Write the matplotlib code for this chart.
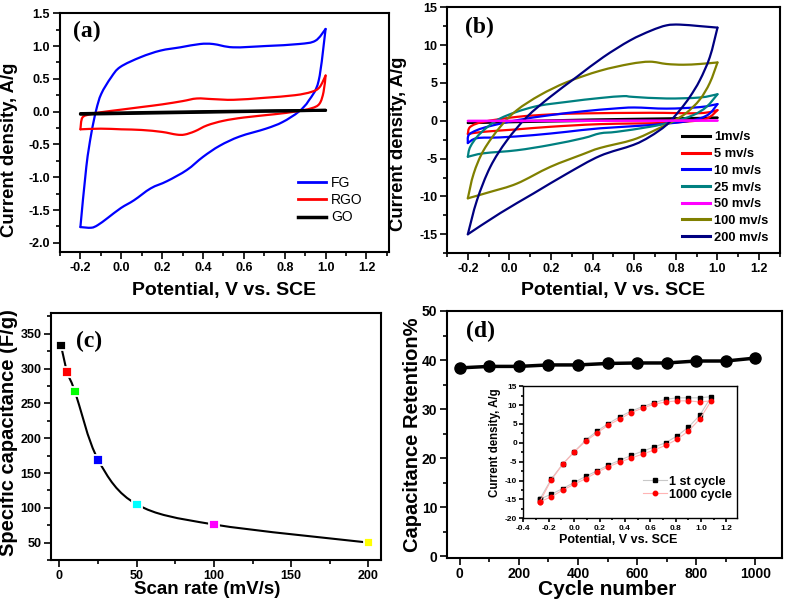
import numpy as np
import matplotlib
matplotlib.use('Agg')
import matplotlib.pyplot as plt
from matplotlib.path import Path
from matplotlib.patches import PathPatch
from matplotlib.ticker import MultipleLocator, FormatStrFormatter

# ---------------- data ----------------
# (a) CV of FG / RGO / GO, loop goes -0.2 -> 1.0 -> -0.2
fg_v = [-0.2, -0.171, -0.147, -0.123, -0.098, -0.05, -0.005, 0.095, 0.192, 0.289, 0.385, 0.45, 0.547, 0.708, 0.869, 0.95, 1.0,
        0.966, 0.918, 0.869, 0.789, 0.708, 0.579, 0.482, 0.4, 0.321, 0.224, 0.144, 0.063, -0.002, -0.066, -0.115, -0.147, -0.2]
fg_i = [-1.76, -0.84, -0.34, 0.02, 0.27, 0.52, 0.68, 0.83, 0.93, 0.98, 1.03, 1.03, 0.98, 1.0, 1.03, 1.08, 1.26,
        0.47, 0.17, 0.0, -0.16, -0.26, -0.38, -0.52, -0.69, -0.89, -1.06, -1.17, -1.35, -1.47, -1.62, -1.73, -1.77, -1.76]
rgo_v = [-0.2, -0.19, -0.15, -0.1, 0.0, 0.1, 0.2, 0.3, 0.37, 0.45, 0.55, 0.7, 0.85, 0.93, 0.97, 1.0,
         0.99, 0.97, 0.93, 0.85, 0.75, 0.6, 0.5, 0.42, 0.36, 0.31, 0.27, 0.2, 0.1, 0.0, -0.1, -0.2]
rgo_i = [-0.27, -0.09, -0.04, -0.01, 0.03, 0.07, 0.11, 0.16, 0.2, 0.19, 0.18, 0.21, 0.25, 0.3, 0.37, 0.55,
         0.3, 0.12, 0.05, 0.0, -0.04, -0.09, -0.14, -0.21, -0.3, -0.35, -0.35, -0.31, -0.28, -0.27, -0.26, -0.27]
go_v = [-0.2, 0.4, 1.0, 0.4, -0.2]
go_i = [-0.03, 0.0, 0.02, -0.01, -0.04]

# (b) CV at different scan rates
rate_labels = ['1mv/s', '5 mv/s', '10 mv/s', '25 mv/s', '50 mv/s', '100 mv/s', '200 mv/s']
rate_colors = ['black', '#ff0000', '#0000ff', '#008080', '#ff00ff', '#808000', '#000080']
cv_v = [
    [-0.2, 0.2, 0.6, 1.0, 0.6, 0.2, -0.2],
    [-0.2, -0.188, -0.124, 0.036, 0.196, 0.355, 0.675, 0.915, 1.0, 0.963, 0.915, 0.755, 0.435, 0.196, 0.036, -0.124, -0.2],
    [-0.2, -0.196, -0.156, -0.092, 0.036, 0.196, 0.355, 0.5, 0.6, 0.755, 0.915, 1.0,
     0.963, 0.915, 0.835, 0.675, 0.435, 0.276, 0.116, -0.044, -0.156, -0.2],
    [-0.2, -0.188, -0.14, -0.044, 0.116, 0.276, 0.435, 0.547, 0.595, 0.755, 0.915, 1.0,
     0.947, 0.883, 0.787, 0.675, 0.516, 0.435, 0.355, 0.196, 0.036, -0.124, -0.2],
    [-0.2, 0.4, 1.0, 0.4, -0.2],
    [-0.2, -0.172, -0.124, -0.044, 0.036, 0.148, 0.276, 0.435, 0.579, 0.675, 0.755, 0.835, 0.915, 1.0,
     0.963, 0.915, 0.851, 0.787, 0.707, 0.595, 0.435, 0.355, 0.196, 0.036, -0.092, -0.2],
    [-0.2, -0.156, -0.092, -0.012, 0.084, 0.196, 0.324, 0.451, 0.579, 0.68, 0.755, 0.819, 0.915, 1.0,
     0.963, 0.915, 0.867, 0.819, 0.755, 0.675, 0.595, 0.435, 0.276, 0.116, -0.044, -0.2],
]
cv_i = [
    [-0.28, 0.05, 0.25, 0.4, 0.1, -0.1, -0.3],
    [-1.75, -0.8, -0.14, 0.51, 0.83, 0.97, 1.05, 1.0, 1.4, 0.5, 0.07, -0.28, -0.45, -0.8, -1.14, -1.46, -1.75],
    [-2.95, -1.9, -1.24, -0.7, 0.07, 0.74, 1.25, 1.6, 1.75, 1.6, 1.8, 2.2,
     0.97, 0.31, -0.14, -0.58, -1.0, -1.46, -1.9, -2.2, -2.3, -2.95],
    [-4.76, -3.44, -1.67, 0.31, 1.83, 2.49, 3.0, 3.25, 3.15, 2.94, 3.07, 3.5,
     1.83, 0.74, -0.14, -0.8, -1.46, -1.67, -2.3, -3.2, -3.9, -4.3, -4.76],
    [0.0, 0.01, 0.02, -0.02, -0.05],
    [-10.25, -7.0, -3.9, -0.8, 1.4, 3.4, 5.1, 6.6, 7.5, 7.8, 7.5, 7.4, 7.5, 7.7,
     5.0, 2.8, 1.05, -0.05, -1.15, -2.5, -3.6, -4.4, -6.1, -8.3, -9.4, -10.25],
    [-15.0, -10.5, -6.1, -2.6, 0.5, 3.15, 5.8, 8.4, 10.6, 11.9, 12.6, 12.7, 12.5, 12.3,
     8.4, 5.35, 3.15, 1.4, -0.55, -2.1, -3.2, -4.65, -7.0, -9.6, -12.2, -15.0],
]

# (c) specific capacitance vs scan rate
scan_rate = [1, 5, 10, 25, 50, 100, 200]
spec_cap = [333, 295, 267, 169, 105, 76, 50]
cap_colors = ['black', '#ff0000', '#00ff00', '#0000ff', '#00ffff', '#ff00ff', '#ffff00']

# (d) capacitance retention vs cycle number
cycles = [0, 100, 200, 300, 400, 500, 600, 700, 800, 900, 1000]
retention = [38.4, 38.7, 38.7, 39.0, 39.0, 39.3, 39.4, 39.4, 39.8, 39.8, 40.4]

# (d) inset: CV of 1st and 1000th cycle
ins_v = [-0.27, -0.18, -0.09, 0.0, 0.09, 0.18, 0.27, 0.36, 0.45, 0.54, 0.63, 0.72, 0.81, 0.9, 0.99, 1.08,
         0.99, 0.9, 0.81, 0.72, 0.63, 0.54, 0.45, 0.36, 0.27, 0.18, 0.09, 0.0, -0.09, -0.18, -0.27]
first_i = [-14.9, -9.6, -5.6, -2.4, 0.7, 3.1, 5.1, 6.9, 8.4, 9.6, 10.6, 11.5, 11.9, 11.9, 11.9, 12.2,
           7.3, 4.1, 1.8, 0.0, -1.1, -2.2, -3.35, -4.6, -5.9, -7.4, -8.9, -10.5, -12.1, -13.6, -14.9]
last_i = [-15.6, -9.8, -5.7, -2.4, 0.4, 2.6, 4.7, 6.3, 8.0, 9.2, 10.2, 10.8, 11.1, 11.1, 10.8, 11.1,
          6.3, 3.1, 0.9, -0.7, -1.9, -3.0, -4.0, -5.1, -6.35, -7.8, -9.5, -11.0, -12.5, -14.3, -15.6]

# ---------------- style ----------------
plt.rcParams['font.family'] = ['Liberation Sans', 'DejaVu Sans']
plt.rcParams['font.weight'] = 'bold'
plt.rcParams['axes.labelweight'] = 'bold'
plt.rcParams['axes.unicode_minus'] = False
plt.rcParams['axes.linewidth'] = 1.5


def smooth_line(ax, xs, ys, **kw):
    # catmull-rom through the points, drawn as a bezier path
    pts = np.column_stack([xs, ys]).astype(float)
    n = len(pts)
    verts = [pts[0]]
    codes = [Path.MOVETO]
    for k in range(n - 1):
        p0 = pts[max(k - 1, 0)]
        p1 = pts[k]
        p2 = pts[k + 1]
        p3 = pts[min(k + 2, n - 1)]
        verts += [p1 + (p2 - p0) / 6, p2 - (p3 - p1) / 6, p2]
        codes += [Path.CURVE4] * 3
    ax.add_patch(PathPatch(Path(verts, codes), fill=False, capstyle='round', joinstyle='round', **kw))


def loop(ax, v, i, **kw):
    # split the loop at the vertex so the turning corner stays sharp
    k = int(np.argmax(v))
    smooth_line(ax, v[:k + 1], i[:k + 1], **kw)
    smooth_line(ax, v[k:], i[k:], **kw)


def style(ax, xmaj, xmin, ymaj, ymin, size=9):
    ax.xaxis.set_major_locator(MultipleLocator(xmaj))
    ax.xaxis.set_minor_locator(MultipleLocator(xmin))
    ax.yaxis.set_major_locator(MultipleLocator(ymaj))
    ax.yaxis.set_minor_locator(MultipleLocator(ymin))
    ax.tick_params(which='both', direction='out', top=False, right=False, width=1.2)
    ax.tick_params(which='major', length=5, labelsize=size, pad=2)
    ax.tick_params(which='minor', length=3)
    for lab in ax.get_xticklabels() + ax.get_yticklabels():
        lab.set_fontweight('bold')


def panel_tag(ax, text, x, y):
    ax.text(x, y, text, transform=ax.transAxes, ha='center', va='center',
            fontsize=17, fontweight='bold', family=['Liberation Serif', 'DejaVu Serif'])


fig = plt.figure(figsize=(7.87, 6), dpi=100)

# ---------------- (a) ----------------
ax1 = fig.add_axes([0.0762, 0.58, 0.418, 0.398])
loop(ax1, fg_v, fg_i, color='#0000ff', lw=1.6)
loop(ax1, rgo_v, rgo_i, color='#ff0000', lw=1.6)
loop(ax1, go_v, go_i, color='black', lw=2.2)
for c, lab, w in [('#0000ff', 'FG', 2), ('#ff0000', 'RGO', 2), ('black', 'GO', 2.5)]:
    ax1.plot([], [], color=c, lw=w, label=lab)
ax1.set_xlim(-0.3, 1.31)
ax1.set_ylim(-2.14, 1.5)
style(ax1, 0.2, 0.1, 0.5, 0.25)
ax1.xaxis.set_major_formatter(FormatStrFormatter('%.1f'))
ax1.yaxis.set_major_formatter(FormatStrFormatter('%.1f'))
ax1.set_xlabel('Potential, V vs. SCE', fontsize=14)
ax1.set_ylabel('Current density, A/g', fontsize=13.3)
ax1.xaxis.set_label_coords(0.5, -0.125)
ax1.yaxis.set_label_coords(-0.128, 0.43)
ax1.legend(loc='upper left', bbox_to_anchor=(0.723, 0.317), frameon=False, borderpad=0, borderaxespad=0,
           handlelength=2.0, handletextpad=0.4, labelspacing=0.22, prop={'size': 10, 'weight': 'normal'})
panel_tag(ax1, '(a)', 0.082, 0.925)

# ---------------- (b) ----------------
ax2 = fig.add_axes([0.568, 0.578, 0.423, 0.41])
order = [0, 1, 2, 3, 5, 6, 4]
for k in order:
    loop(ax2, cv_v[k], cv_i[k], color=rate_colors[k], lw=1.6, zorder=2 + (1 if k == 4 else 0))
for k in range(len(rate_labels)):
    ax2.plot([], [], color=rate_colors[k], lw=2.2, label=rate_labels[k])
ax2.set_xlim(-0.3, 1.3)
ax2.set_ylim(-17.5, 15)
style(ax2, 0.2, 0.1, 5, 2.5)
ax2.xaxis.set_major_formatter(FormatStrFormatter('%.1f'))
ax2.set_xlabel('Potential, V vs. SCE', fontsize=14)
ax2.set_ylabel('Current density, A/g', fontsize=13.3)
ax2.xaxis.set_label_coords(0.5, -0.117)
ax2.yaxis.set_label_coords(-0.12, 0.443)
ax2.legend(loc='upper left', bbox_to_anchor=(0.706, 0.495), frameon=False, borderpad=0, borderaxespad=0,
           handlelength=2.2, handletextpad=0.3, labelspacing=0.36, prop={'size': 9.3, 'weight': 'bold'})
panel_tag(ax2, '(b)', 0.098, 0.916)

# ---------------- (c) ----------------
ax3 = fig.add_axes([0.0648, 0.0667, 0.419, 0.4117])
smooth_line(ax3, scan_rate, spec_cap, color='black', lw=1.5, zorder=2)
ax3.scatter(scan_rate, spec_cap, marker='s', s=48, c=cap_colors, edgecolors='white', linewidths=1.3, zorder=3)
ax3.set_xlim(-5.5, 208)
ax3.set_ylim(25, 380)
style(ax3, 50, 25, 50, 25)
ax3.set_xlabel('Scan rate (mV/s)', fontsize=13.5)
ax3.set_ylabel('Specific capacitance (F/g)', fontsize=14.5)
ax3.xaxis.set_label_coords(0.474, -0.085)
ax3.yaxis.set_label_coords(-0.1, 0.514)
panel_tag(ax3, '(c)', 0.115, 0.884)

# ---------------- (d) ----------------
ax4 = fig.add_axes([0.568, 0.0705, 0.4257, 0.4112])
ax4.plot(cycles, retention, color='black', lw=2.5, marker='o', markersize=8)
ax4.set_xlim(-43, 1090)
ax4.set_ylim(-0.3, 50)
style(ax4, 200, 100, 10, 5, size=10)
ax4.set_xlabel('Cycle number', fontsize=15)
ax4.set_ylabel('Capacitance Retention%', fontsize=14.5)
ax4.xaxis.set_label_coords(0.477, -0.092)
ax4.yaxis.set_label_coords(-0.075, 0.497)
panel_tag(ax4, '(d)', 0.0985, 0.916)

# inset
ax5 = fig.add_axes([0.665, 0.136, 0.271, 0.2205])
ax5.plot(ins_v, first_i, color='#c8c8c8', lw=0.8, marker='s', markersize=3.2,
         mfc='black', mec='black', label='1 st cycle')
ax5.plot(ins_v, last_i, color='#ffb4b4', lw=0.8, marker='o', markersize=3.2,
         mfc='#ff0000', mec='#ff0000', label='1000 cycle')
ax5.set_xlim(-0.4, 1.28)
ax5.set_ylim(-20, 15)
style(ax5, 0.2, 0.1, 5, 2.5, size=6)
ax5.tick_params(which='major', length=3, pad=1.5)
ax5.tick_params(which='minor', length=1.5)
ax5.xaxis.set_major_formatter(FormatStrFormatter('%.1f'))
for sp in ax5.spines.values():
    sp.set_linewidth(1.0)
ax5.set_xlabel('Potential, V vs. SCE', fontsize=9)
ax5.set_ylabel('Current density, A/g', fontsize=8.3)
ax5.xaxis.set_label_coords(0.444, -0.119)
ax5.yaxis.set_label_coords(-0.105, 0.57)
ax5.legend(loc='upper left', bbox_to_anchor=(0.561, 0.3235), frameon=False, borderpad=0, borderaxespad=0,
           handlelength=1.9, handletextpad=0.15, labelspacing=0.1, prop={'size': 9, 'weight': 'bold'})

fig.savefig('out.png', dpi=100)
